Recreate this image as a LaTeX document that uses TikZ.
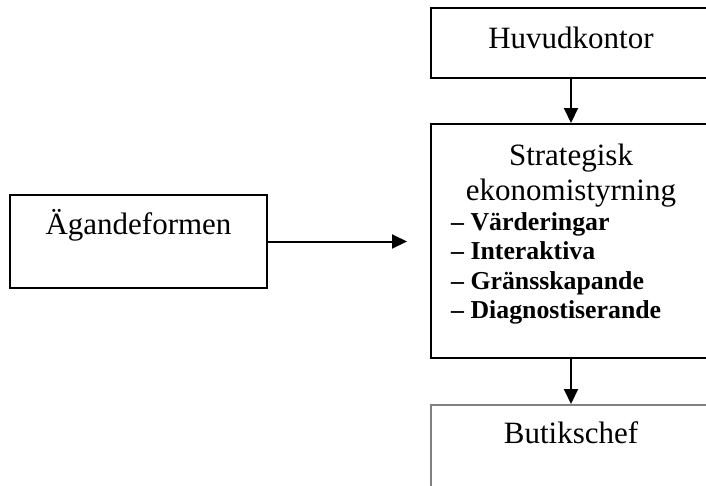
\documentclass[tikz,border=0pt]{standalone}
\usepackage{fontspec}
\setmainfont{Liberation Serif}
\usetikzlibrary{arrows.meta}

\tikzset{
  box/.style={draw, line width=2pt, inner sep=0pt},
  greybox/.style={draw=gray, line width=2pt, inner sep=0pt},
  txt/.style={inner sep=0pt, font=\fontsize{31}{35}\selectfont},
  item/.style={inner sep=0pt, font=\fontsize{25.8}{29.6}\selectfont\bfseries},
  arr/.style={-{Triangle[length=15pt,width=14pt]}, line width=2pt}
}

\begin{document}
\begin{tikzpicture}[x=1pt, y=-1pt] % one unit = one pixel of the reference
    \useasboundingbox (0,0) rectangle (706,485);
    \clip (0,0) rectangle (706,485);

    % Boxes (the right column runs off the page)
    \node[box, minimum width=280, minimum height=70] (hq) at (571,43) {};
    \node[box, minimum width=280, minimum height=234] (strat) at (571,241) {};
    \node[greybox, minimum width=280, minimum height=100] (shop) at (571,455) {};
    \node[box, minimum width=257, minimum height=93] (owner) at (138.5,241.5) {};

    % Labels
    \node[txt, anchor=base] (hqtext) at (571,48) {Huvudkontor};
    \node[txt, anchor=base] (strattitle) at (571,165) {Strategisk};
    \node[txt, anchor=base] (stratsub) at (571,200) {ekonomistyrning};
    \foreach \name [count=\i] in {Värderingar, Interaktiva, Gränsskapande, Diagnostiserande}
        \node[item, anchor=base west] (item\i) at (451,{230+29.6*(\i-1)}) {– \name};
    \node[txt, anchor=base] (shoptext) at (571,443) {Butikschef};
    \node[txt, anchor=base] (ownertext) at (138.5,234) {Ägandeformen};

    % Connectors
    \coordinate (ownerend) at (407,241.5);
    \draw[arr] (hq) -- (strat);
    \draw[arr] (strat) -- (shop);
    \draw[arr] (owner) -- (ownerend);
\end{tikzpicture}
\end{document}
